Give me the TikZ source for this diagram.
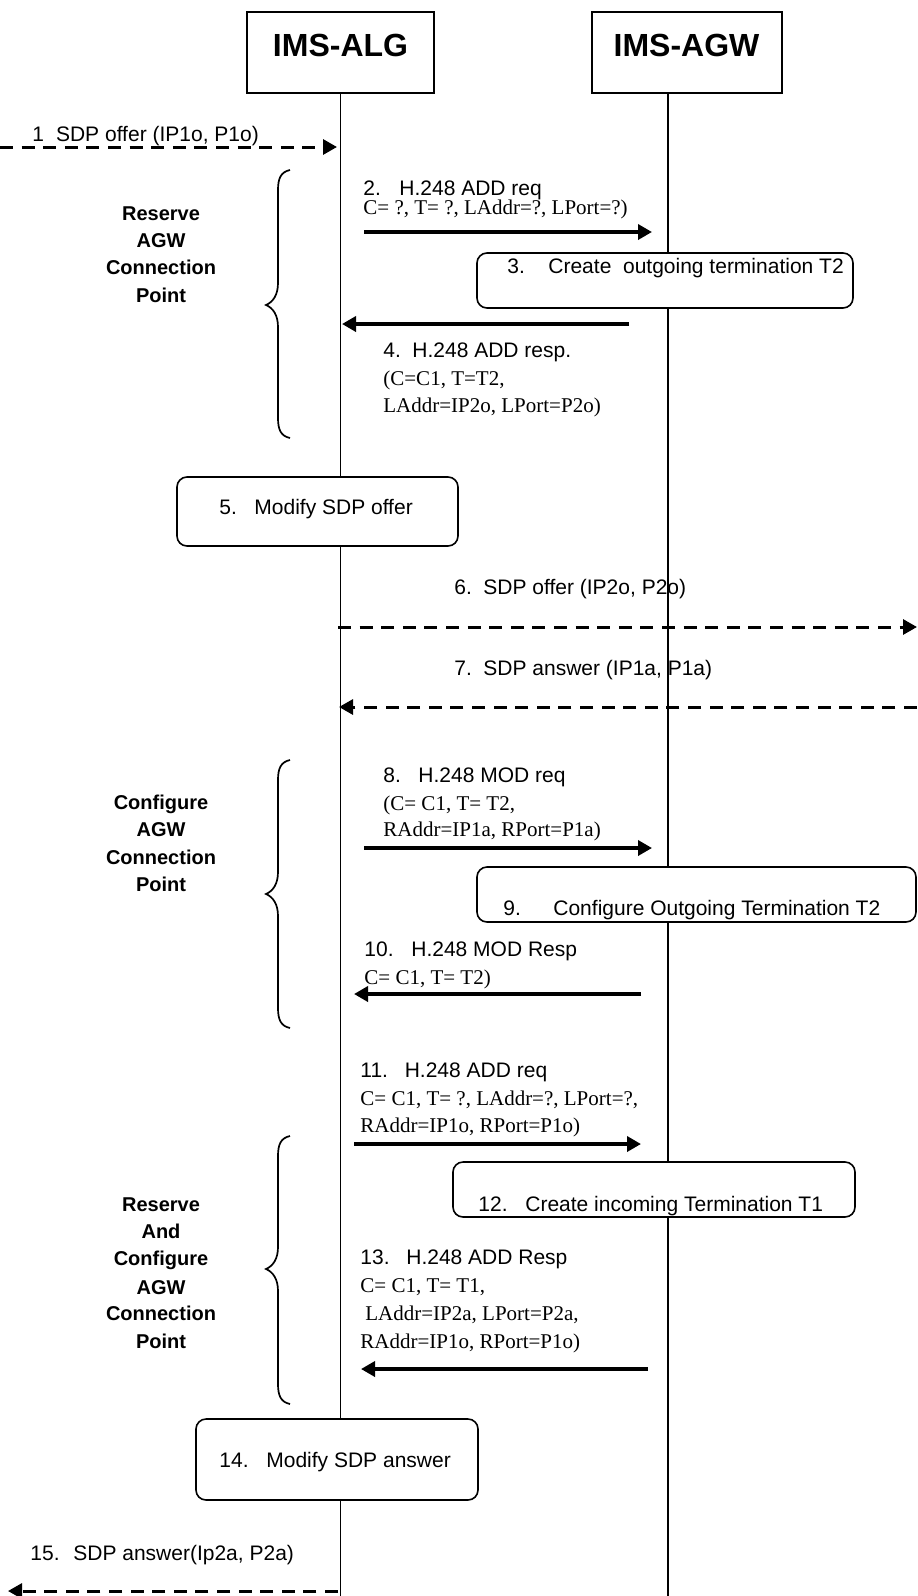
\documentclass[tikz,border=0pt]{standalone}
\usepackage{fontspec}
\setmainfont{Liberation Serif}
\setsansfont{Liberation Sans}
\usetikzlibrary{arrows.meta}
\begin{document}
\begin{tikzpicture}[x=0.5pt,y=-0.5pt,
  lifeline/.style={line width=0.65pt},
  header/.style={draw, line width=0.8pt, minimum height=40.5pt, inner sep=0pt},
  headtext/.style={font=\sffamily\bfseries\fontsize{16}{19}\selectfont, inner sep=0pt},
  actbox/.style={draw, line width=0.8pt, rounded corners=5pt, fill=white, inner sep=0pt},
  lab/.style={font=\sffamily\fontsize{10.5}{12}\selectfont, inner sep=0pt, anchor=base west},
  prm/.style={font=\rmfamily\fontsize{10.5}{12}\selectfont, inner sep=0pt, anchor=base west},
  grp/.style={font=\sffamily\bfseries\fontsize{10}{12}\selectfont, inner sep=0pt, anchor=base},
  msg/.style={line width=2pt, -{Triangle[length=7pt,width=7.5pt]}},
  sdp/.style={line width=1.5pt, dash pattern=on 6.5pt off 4.3pt, -{Triangle[length=7pt,width=7.5pt]}},
  brace/.style={line width=0.85pt}
]
\useasboundingbox[fill=white] (0,0) rectangle (917,1596);

% headers
\node[header, minimum width=93.5pt] (alg) at (340.5,52.5) {};
\node[header, minimum width=95pt] (agw) at (687,52.5) {};
\node[headtext] (algt) at (340.5,45) {IMS-ALG};
\node[headtext] (agwt) at (686.5,45) {IMS-AGW};

% lifelines
\coordinate (agwtop) at (668,93);
\coordinate (algbot) at (340.5,1596);
\coordinate (agwbot) at (668,1596);
\draw[lifeline] (alg.south) -- (algbot);
\draw[lifeline] (agwtop) -- (agwbot);

% braces
\newcommand{\mybrace}[3]{%
  \draw[brace] (290,#1) .. controls (281,#1+2) and (278,#1+8) .. (278,#1+20)
    -- (278,#2-22) .. controls (278,#2-10) and (273,#2-3) .. (266,#2)
    .. controls (273,#2+3) and (278,#2+10) .. (278,#2+22)
    -- (278,#3-20) .. controls (278,#3-8) and (281,#3-2) .. (290,#3);}
\mybrace{170}{305}{438}
\mybrace{760}{894}{1028}
\mybrace{1136}{1269}{1404}

% group labels
\node[grp] (g1a) at (161,220) {Reserve};
\node[grp] (g1b) at (161,247) {AGW};
\node[grp] (g1c) at (161,274) {Connection};
\node[grp] (g1d) at (161,302) {Point};

\node[grp] (g2a) at (161,809) {Configure};
\node[grp] (g2b) at (161,836) {AGW};
\node[grp] (g2c) at (161,864) {Connection};
\node[grp] (g2d) at (161,891) {Point};

\node[grp] (g3a) at (161,1211) {Reserve};
\node[grp] (g3b) at (161,1238) {And};
\node[grp] (g3c) at (161,1265) {Configure};
\node[grp] (g3d) at (161,1294) {AGW};
\node[grp] (g3e) at (161,1320) {Connection};
\node[grp] (g3f) at (161,1348) {Point};

% action boxes
\node[actbox, minimum width=188pt, minimum height=27.5pt] (b3) at (665,280.5) {};
\node[actbox, minimum width=140.5pt, minimum height=34.5pt] (b5) at (317.5,511.5) {};
\node[actbox, minimum width=219.5pt, minimum height=27.5pt] (b9) at (696.5,894.5) {};
\node[actbox, minimum width=201pt, minimum height=27.5pt] (b12) at (654,1189.5) {};
\node[actbox, minimum width=141pt, minimum height=40.5pt] (b14) at (337,1459.5) {};

% texts
\node[lab] (l1) at (32,141) {1\hspace{6pt}SDP offer (IP1o, P1o)};
\node[lab] (l2a) at (363,195) {2.\hspace{9.25pt}H.248 ADD req};
\node[prm] (l2b) at (363,214) {C= ?, T= ?, LAddr=?, LPort=?)};
\node[lab] (t3) at (507,273) {3.\hspace{11.75pt}Create\ \ outgoing termination T2};
\node[lab] (l4a) at (383,357) {4.\hspace{5.75pt}H.248 ADD resp.};
\node[prm] (l4b) at (383,385) {(C=C1, T=T2,};
\node[prm] (l4c) at (383,412) {LAddr=IP2o, LPort=P2o)};
\node[lab] (t5) at (219,514) {5.\hspace{8.75pt}Modify SDP offer};
\node[lab] (l6) at (454,594) {6.\hspace{5.75pt}SDP offer (IP2o, P2o)};
\node[lab] (l7) at (454,675) {7.\hspace{5.75pt}SDP answer (IP1a, P1a)};
\node[lab] (l8a) at (383,782) {8.\hspace{8.75pt}H.248 MOD req};
\node[prm] (l8b) at (383,810) {(C= C1, T= T2,};
\node[prm] (l8c) at (383,836) {RAddr=IP1a, RPort=P1a)};
\node[lab] (t9) at (503,915) {9.\hspace{16.25pt}Configure Outgoing Termination T2};
\node[lab] (l10a) at (364,956) {10.\hspace{8.9pt}H.248 MOD Resp};
\node[prm] (l10b) at (364,984) {C= C1, T= T2)};
\node[lab] (l11a) at (360,1077) {11.\hspace{8.4pt}H.248 ADD req};
\node[prm] (l11b) at (360,1105) {C= C1, T= ?, LAddr=?, LPort=?,};
\node[prm] (l11c) at (360,1132) {RAddr=IP1o, RPort=P1o)};
\node[lab] (t12) at (478,1211) {12.\hspace{8.9pt}Create incoming Termination T1};
\node[lab] (l13a) at (360,1264) {13.\hspace{8.4pt}H.248 ADD Resp};
\node[prm] (l13b) at (360,1292) {C= C1, T= T1,};
\node[prm] (l13c) at (365,1320) {LAddr=IP2a, LPort=P2a,};
\node[prm] (l13d) at (360,1348) {RAddr=IP1o, RPort=P1o)};
\node[lab] (t14) at (219,1467) {14.\hspace{8.9pt}Modify SDP answer};
\node[lab] (l15) at (30,1560) {15.\hspace{6.9pt}SDP answer(Ip2a, P2a)};

% message endpoints
\coordinate (m1s) at (0,147);     \coordinate (m1e) at (337,147);
\coordinate (m2s) at (364,232);   \coordinate (m2e) at (652,232);
\coordinate (m4s) at (629,324);   \coordinate (m4e) at (342,324);
\coordinate (m6s) at (338,627);   \coordinate (m6e) at (917,627);
\coordinate (m7s) at (917,707);   \coordinate (m7e) at (339,707);
\coordinate (m8s) at (364,848);   \coordinate (m8e) at (652,848);
\coordinate (m10s) at (641,994);  \coordinate (m10e) at (354,994);
\coordinate (m11s) at (354,1144); \coordinate (m11e) at (641,1144);
\coordinate (m13s) at (648,1369); \coordinate (m13e) at (361,1369);
\coordinate (m15s) at (338,1591); \coordinate (m15e) at (8,1591);

\draw[sdp] (m1s) -- (m1e);
\draw[msg] (m2s) -- (m2e);
\draw[msg] (m4s) -- (m4e);
\draw[sdp] (m6s) -- (m6e);
\draw[sdp] (m7s) -- (m7e);
\draw[msg] (m8s) -- (m8e);
\draw[msg] (m10s) -- (m10e);
\draw[msg] (m11s) -- (m11e);
\draw[msg] (m13s) -- (m13e);
\draw[sdp] (m15s) -- (m15e);
\end{tikzpicture}
\end{document}
